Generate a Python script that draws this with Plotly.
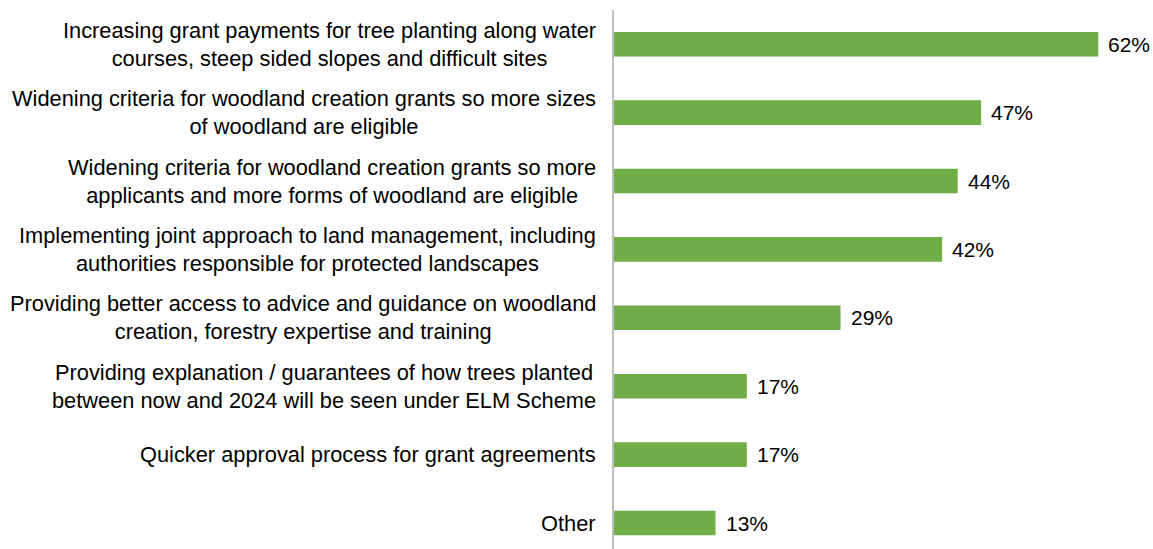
import plotly.graph_objects as go

# Survey responses: measures that would encourage more woodland creation
measures = [
    "Increasing grant payments for tree planting along water<br>courses, steep sided slopes and difficult sites",
    "Widening criteria for woodland creation grants so more sizes<br>of woodland are eligible",
    "Widening criteria for woodland creation grants so more<br>applicants and more forms of woodland are eligible",
    "Implementing joint approach to land management, including<br>authorities responsible for protected landscapes",
    "Providing better access to advice and guidance on woodland<br>creation, forestry expertise and training",
    "Providing explanation / guarantees of how trees planted<br>between now and 2024 will be seen under ELM Scheme",
    "Quicker approval process for grant agreements",
    "Other",
]
shares = [62, 47, 44, 42, 29, 17, 17, 13]

ids = list(range(len(measures)))
font_family = "Liberation Sans, Arial, sans-serif"

fig = go.Figure(
    go.Bar(
        x=shares,
        y=ids,
        orientation="h",
        width=0.36,
        marker=dict(color="#70AD47", line=dict(width=0)),
        hoverinfo="skip",
    )
)

annotations = []
for i, (m, v) in enumerate(zip(measures, shares)):
    annotations.append(dict(
        x=0, xref="paper", y=i, yref="y", text=m, showarrow=False,
        xanchor="right", yanchor="middle", align="center", xshift=-16,
        font=dict(family=font_family, size=21.8, color="#000000"),
    ))
    annotations.append(dict(
        x=v, xref="x", y=i, yref="y", text=f"{v}%", showarrow=False,
        xanchor="left", yanchor="middle", xshift=8,
        font=dict(family=font_family, size=21, color="#000000"),
    ))

fig.update_layout(
    width=1153, height=549,
    margin=dict(l=614, r=0, t=10, b=0),
    paper_bgcolor="white", plot_bgcolor="white",
    showlegend=False,
    annotations=annotations,
    xaxis=dict(range=[0, 69], visible=False, fixedrange=True),
    yaxis=dict(
        range=[7.38, -0.5], showticklabels=False, showgrid=False,
        zeroline=False, showline=True, linecolor="#BFBFBF", linewidth=1.5,
        ticks="", fixedrange=True,
    ),
)

fig.write_html("out.html")
